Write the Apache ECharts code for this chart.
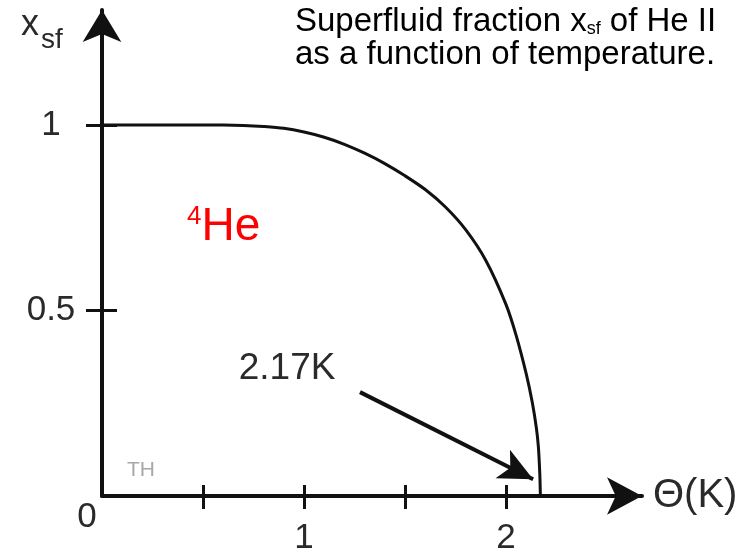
<!DOCTYPE html>
<html>
<head>
<meta charset="utf-8">
<script src="https://cdn.jsdelivr.net/npm/echarts@6/dist/echarts.min.js"></script>
<style>
  html, body { margin: 0; padding: 0; background: #fff; }
  #chart { width: 743px; height: 556px; }
</style>
</head>
<body>
<div id="chart"></div>
<script>
// Superfluid fraction of He II versus temperature (K)
const temperature = [0, 0.1, 0.2, 0.3, 0.4, 0.5, 0.6, 0.7, 0.8, 0.9, 1.0, 1.1, 1.2, 1.3, 1.4, 1.5, 1.6, 1.7, 1.8, 1.9, 2.0, 2.05, 2.1, 2.13, 2.15, 2.16, 2.167, 2.17];
const fraction    = [1, 1, 1, 1, 1, 1, 1, 0.999, 0.996, 0.991, 0.981, 0.967, 0.948, 0.924, 0.896, 0.863, 0.826, 0.779, 0.718, 0.635, 0.516, 0.433, 0.329, 0.252, 0.184, 0.133, 0.061, 0];
const lambdaPoint = 2.17;

// Axis ticks and labels
const xTickValues  = [0.5, 1, 1.5, 2];
const xLabelValues = [1, 2];
const yTickValues  = [0.5, 1];
const yLabelValues = [0.5, 1];

// Annotation arrow (data units) and its label anchor
const arrowTail  = [1.277, 0.28];
const arrowHead  = [2.134, 0.045];
const arrowLabel = [0.916, 0.342];

const FONT = "'Liberation Sans', Arial, Helvetica, sans-serif";
const INK = '#111';
const TEXT = '#2a2a2a';

const chart = echarts.init(document.getElementById('chart'), null, { renderer: 'canvas' });

const curve = temperature.map((t, i) => [t, fraction[i]]);

const X_MAX = 2.673;
const Y_MAX = 1.310;

const option = {
  backgroundColor: '#fff',
  animation: false,
  grid: { left: 102, right: 101, top: 10, bottom: 56, containLabel: false },
  xAxis: [
    {
      type: 'value', position: 'bottom', min: 0, max: X_MAX,
      name: 'Θ(K)', nameLocation: 'end', nameGap: 11,
      nameTextStyle: { fontFamily: FONT, fontSize: 40, color: TEXT, align: 'left', verticalAlign: 'middle' },
      axisLine: { show: true, onZero: false, symbol: ['none', 'arrow'], symbolSize: [28, 35],
                  lineStyle: { color: INK, width: 4 } },
      axisTick: { show: true, inside: false, length: 13, customValues: xTickValues,
                  lineStyle: { color: INK, width: 3 } },
      axisLabel: { show: true, customValues: xLabelValues, margin: 25,
                   fontFamily: FONT, fontSize: 35, color: TEXT },
      splitLine: { show: false }
    },
    {
      type: 'value', position: 'bottom', min: 0, max: X_MAX,
      axisLine: { show: false, onZero: false },
      axisTick: { show: true, inside: true, length: 11, customValues: xTickValues,
                  lineStyle: { color: INK, width: 3 } },
      axisLabel: { show: false },
      splitLine: { show: false }
    }
  ],
  yAxis: [
    {
      type: 'value', position: 'left', min: 0, max: Y_MAX,
      axisLine: { show: true, onZero: false, symbol: ['none', 'arrow'], symbolSize: [29, 32],
                  lineStyle: { color: INK, width: 4 } },
      axisTick: { show: true, inside: false, length: 16, customValues: yTickValues,
                  lineStyle: { color: INK, width: 3 } },
      axisLabel: { show: true, customValues: yLabelValues, margin: 51, align: 'center',
                   fontFamily: FONT, fontSize: 35, color: TEXT },
      splitLine: { show: false }
    },
    {
      type: 'value', position: 'left', min: 0, max: Y_MAX,
      axisLine: { show: false, onZero: false },
      axisTick: { show: true, inside: true, length: 15, customValues: yTickValues,
                  lineStyle: { color: INK, width: 3 } },
      axisLabel: { show: false },
      splitLine: { show: false }
    }
  ],
  series: [
    {
      type: 'line',
      xAxisIndex: 0, yAxisIndex: 0,
      data: curve,
      smooth: 0.3,
      symbol: 'none',
      clip: false,
      lineStyle: { color: INK, width: 3 },
      markLine: {
        silent: true,
        symbol: ['none', 'arrow'],
        symbolSize: [24, 34],
        lineStyle: { color: INK, width: 4, type: 'solid' },
        label: { show: false },
        data: [[{ coord: arrowTail }, { coord: arrowHead }]]
      },
      markPoint: {
        silent: true,
        symbolSize: 0,
        label: { show: true, position: 'inside', fontFamily: FONT, fontSize: 37, color: TEXT,
                 formatter: lambdaPoint.toFixed(2) + 'K' },
        data: [{ coord: arrowLabel }]
      }
    }
  ],
  graphic: [
    {
      type: 'text', left: 295, top: 5,
      style: {
        text: '{a|Superfluid fraction x}{b|sf}{a| of He II}\n{a|as a function of temperature.}',
        rich: {
          a: { fontFamily: FONT, fontSize: 33, lineHeight: 33, fill: '#000' },
          b: { fontFamily: FONT, fontSize: 18, lineHeight: 12, verticalAlign: 'bottom', fill: '#000' }
        }
      }
    },
    {
      type: 'text', x: 21, y: 25,
      style: { text: 'x', fontFamily: FONT, fontSize: 36, fill: TEXT, align: 'left', verticalAlign: 'middle' }
    },
    {
      type: 'text', x: 41, y: 40,
      style: { text: 'sf', fontFamily: FONT, fontSize: 28, fill: TEXT, align: 'left', verticalAlign: 'middle' }
    },
    {
      type: 'text', left: 187, top: 204,
      style: {
        text: '{s|4}{h|He}',
        rich: {
          s: { fontFamily: FONT, fontSize: 26, lineHeight: 24, verticalAlign: 'top', fill: '#ff0000' },
          h: { fontFamily: FONT, fontSize: 46, lineHeight: 46, fill: '#ff0000' }
        }
      }
    },
    {
      type: 'text', left: 127, top: 460,
      style: { text: 'TH', fontFamily: FONT, fontSize: 21, fill: '#a8a8a8' }
    },
    {
      type: 'text', x: 87, y: 517,
      style: { text: '0', fontFamily: FONT, fontSize: 35, fill: TEXT, align: 'center', verticalAlign: 'middle' }
    }
  ]
};

chart.setOption(option);
</script>
</body>
</html>
